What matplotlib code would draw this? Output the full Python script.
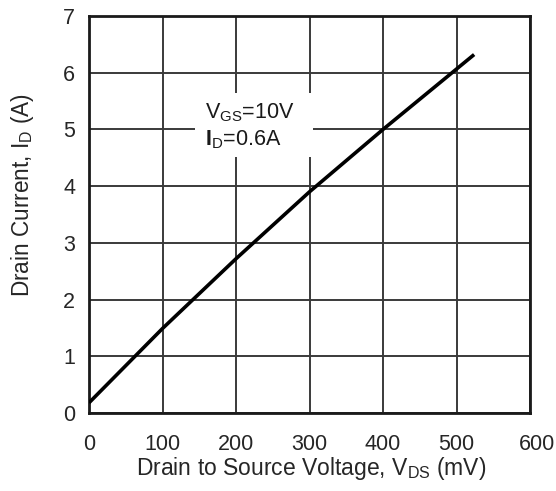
import matplotlib
matplotlib.use("Agg")
import matplotlib.pyplot as plt
import matplotlib.transforms as mtransforms
from matplotlib.patches import Rectangle

# Data
vds_mv = [0, 100, 200, 300, 400, 524]
id_a = [0.18, 1.49, 2.72, 3.90, 5.0, 6.32]
x_ticks = [0, 100, 200, 300, 400, 500, 600]
y_ticks = [0, 1, 2, 3, 4, 5, 6, 7]

plt.rcParams['font.family'] = ['Liberation Sans', 'DejaVu Sans']
plt.rcParams['mathtext.fontset'] = 'custom'
plt.rcParams['mathtext.rm'] = 'Liberation Sans'
plt.rcParams['mathtext.it'] = 'Liberation Sans'
plt.rcParams['mathtext.bf'] = 'Liberation Sans:bold'

W, H = 556, 491
fig = plt.figure(figsize=(W / 100, H / 100), dpi=100)
ax = fig.add_axes([89 / W, 1 - 413 / H, 441 / W, 397 / H])

ax.set_xlim(0, 600)
ax.set_ylim(0, 7)
ax.set_xticks(x_ticks)
ax.set_yticks(y_ticks)
ax.tick_params(length=0, labelsize=15.5, colors='#262626')
ax.tick_params(axis='y', pad=10)
ax.tick_params(axis='x', pad=15)
ax.grid(True, color='#3a3a3a', linewidth=1.4)
ax.set_axisbelow(True)
for s in ax.spines.values():
    s.set_linewidth(2.0)
    s.set_color('#1a1a1a')

# the last x tick label sits shifted right in the reference (kept fully visible here)
last = ax.get_xticklabels()[-1]
last.set_transform(last.get_transform() + mtransforms.ScaledTranslation(0.065, 0, fig.dpi_scale_trans))

ax.plot(vds_mv, id_a, color='black', linewidth=2.6, solid_capstyle='butt', zorder=4)

# white label box covering the grid
ax.add_patch(Rectangle((144, 4.51), 161, 1.13, facecolor='white', edgecolor='none', zorder=2))
ax.text(158, 5.30, r'V$_{\rm GS}$=10V', fontsize=15.5, color='#1a1a1a', va='center', ha='left', zorder=3)
ax.text(158, 4.82, r'$\mathbf{I}_{\rm D}$=0.6A', fontsize=15.5, color='#1a1a1a', va='center', ha='left', zorder=3)

fig.text(311 / W, 1 - 475 / H, r'Drain to Source Voltage, V$_{\rm DS}$ (mV)', fontsize=16.5,
         color='#262626', ha='center', va='baseline')
fig.text(23 / W, 1 - 195 / H, r'Drain Current, I$_{\rm D}$ (A)', fontsize=16.3,
         color='#262626', ha='center', va='center', rotation=90)

fig.savefig('out.png', dpi=100, facecolor='white')
